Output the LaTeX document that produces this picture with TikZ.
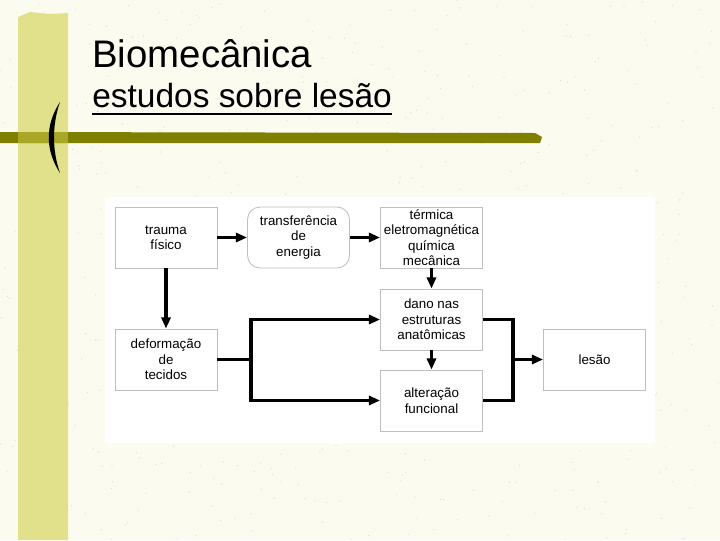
\documentclass[tikz,border=0pt]{standalone}
\usepackage{fontspec}
\setmainfont{Liberation Sans}
\usetikzlibrary{arrows.meta}

\definecolor{slidebg}{RGB}{251,251,239}
\definecolor{barkhaki}{RGB}{225,225,140}
\definecolor{barolive}{RGB}{128,128,0}
\definecolor{baroverlap}{RGB}{168,168,38}
\definecolor{boxline}{RGB}{190,190,190}

\begin{document}
\begin{tikzpicture}[
    x=0.025cm, y=-0.025cm,
    box/.style={rectangle, draw=boxline, line width=0.6pt, fill=white, minimum width=2.55cm, minimum height=1.525cm, align=center, inner sep=1pt, font=\fontsize{9.5}{11}\selectfont},
    flow/.style={line width=2.4pt, -{Triangle[length=8pt, width=6.5pt]}},
    link/.style={line width=2.4pt}
]

% Slide background
\useasboundingbox (0,0) rectangle (720,540);
\fill[slidebg] (0,0) rectangle (720,540);
\pgfmathsetseed{7}
\foreach \i in {1,...,600}
    \fill[gray!60, opacity=0.45] (720*rnd, 540*rnd) circle (0.45pt);

% Left bars
\fill[barkhaki] (18,17) -- (30,12) -- (50,14) -- (68,13) -- (68,540) -- (18,540) -- cycle;
\fill[barolive] (0,132) -- (535,133) -- (542,137) -- (540,143) -- (0,143) -- cycle;
\fill[baroverlap] (18,132) rectangle (68,143);
\fill[black] (60,102) .. controls (45,125) and (45,150) .. (60,173) .. controls (52,150) and (52,125) .. cycle;

% Title
\node[anchor=base west, inner sep=0pt, font=\fontsize{27.3}{30}\selectfont] (title) at (92,67) {Biomecânica};
\node[anchor=base west, inner sep=0pt, font=\fontsize{23.8}{26}\selectfont] (subtitle) at (92,107) {estudos sobre lesão};
\draw[line width=1.4pt] ([yshift=-5pt]subtitle.base west) -- ([yshift=-5pt]subtitle.base east);

% Diagram panel
\fill[white] (105,197) rectangle (655,443);

% Boxes
\node[box] (trauma) at (166,237.5) {trauma\\físico};
\node[box, rounded corners=9pt] (transf) at (298.5,237.5) {transferência\\de\\energia};
\node[box] (tipos) at (431.5,237.5) {térmica\\eletromagnética\\química\\mecânica};
\node[box] (dano) at (431.5,319.5) {dano nas\\estruturas\\anatômicas};
\node[box] (alter) at (431.5,400.5) {alteração\\funcional};
\node[box] (deform) at (166,359.5) {deformação\\de\\tecidos};
\node[box] (lesao) at (594.5,359.5) {lesão};

\coordinate (branch) at (251,359.5);
\coordinate (join) at (513,359.5);

% Arrows
\draw[flow] (trauma) -- (transf);
\draw[flow] (transf) -- (tipos);
\draw[flow] (trauma) -- (deform);
\draw[flow] (tipos) -- (dano);
\draw[flow] (dano) -- (alter);
\draw[flow] (deform.east) -- (branch) |- (dano.west);
\draw[flow] (branch) |- (alter.west);
\draw[link] (dano.east) -| (join) |- (alter.east);
\draw[flow] (join) -- (lesao.west);

\end{tikzpicture}
\end{document}
